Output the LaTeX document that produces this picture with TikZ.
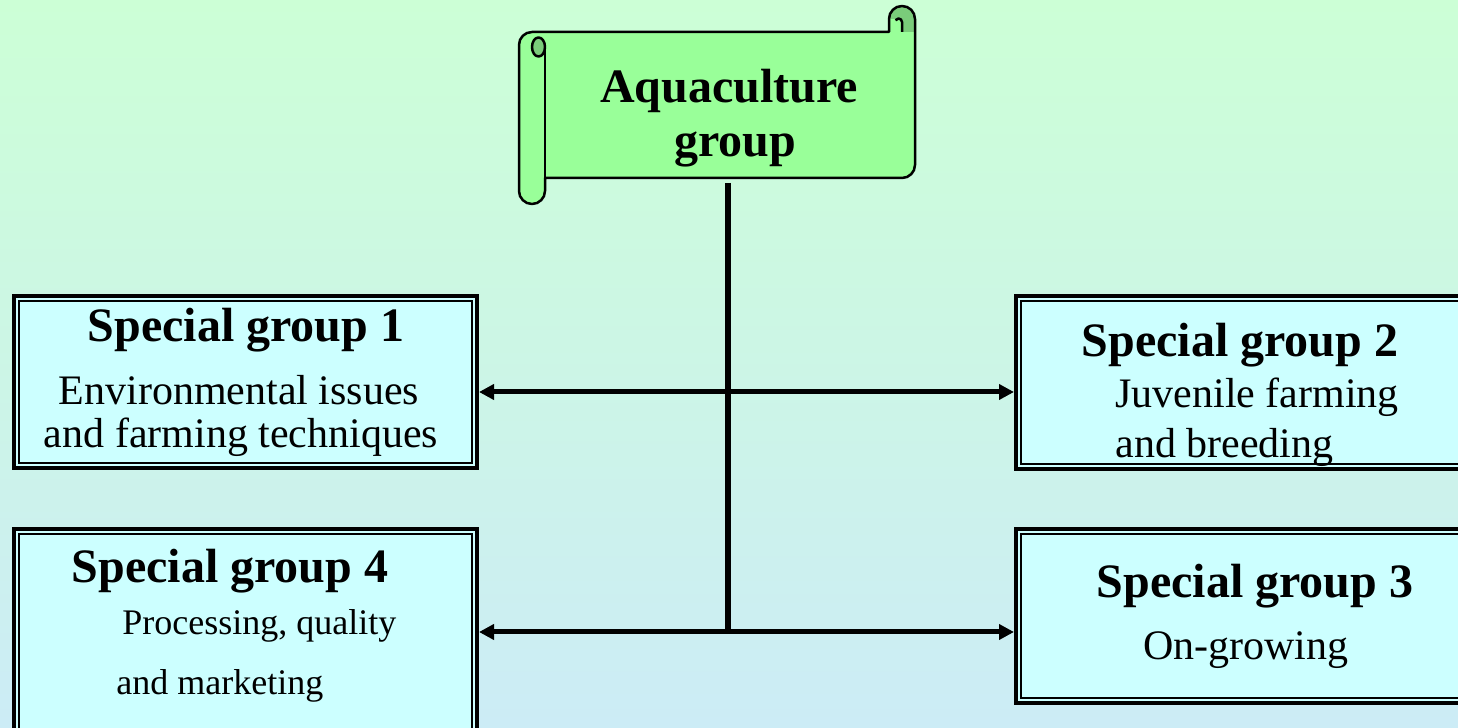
\documentclass[tikz,border=0pt]{standalone}
\usepackage{fontspec}
\setmainfont{Liberation Serif}
\usetikzlibrary{arrows.meta}
\definecolor{bgtop}{RGB}{204,255,214}
\definecolor{bgbot}{RGB}{204,236,246}
\definecolor{boxfill}{RGB}{204,255,255}
\definecolor{scrollfill}{RGB}{153,255,153}
\definecolor{scrolldark}{RGB}{122,204,122}
\def\myscrollpath{(519,683) arc[start angle=180, end angle=90, radius=13]
 -- (889,696) -- (889,709) arc[start angle=180, end angle=0, radius=13]
 -- (915,563) arc[start angle=0, end angle=-90, radius=13]
 -- (545,550) -- (545,537) arc[start angle=0, end angle=-180, radius=13]
 -- cycle}
\begin{document}
\begin{tikzpicture}[x=0.5pt,y=0.5pt,
  grpbox/.style={draw=black, line width=2pt, fill=boxfill, rectangle, inner sep=0pt, outer sep=1pt},
  innerline/.style={draw=black, line width=1pt},
  titletext/.style={font=\fontsize{24}{24}\selectfont\bfseries, inner sep=0pt, anchor=base},
  bodytext/.style={font=\fontsize{21}{21}\selectfont, inner sep=0pt, anchor=base},
  smalltext/.style={font=\fontsize{18}{18}\selectfont, inner sep=0pt, anchor=base west},
  link/.style={line width=2.5pt, {Triangle[length=7.5pt,width=7.5pt]}-{Triangle[length=7.5pt,width=7.5pt]}},
  stem/.style={line width=3pt},
  scrollline/.style={draw=black, line width=1.25pt, line join=round}
]
\useasboundingbox (0,0) rectangle (1458,728);
\shade[top color=bgtop, bottom color=bgbot] (0,0) rectangle (1458,728);
\clip (0,0) rectangle (1458,728);

% scroll
\fill[scrollfill] \myscrollpath;
\fill[scrolldark] (889,709) arc[start angle=180, end angle=0, radius=13] -- (915,696) -- (902,696) -- (902,709) -- cycle;
\draw[scrollline] \myscrollpath;
\draw[scrollline] (902,696) -- (902,706) arc[start angle=0, end angle=150, radius=3.5];
\filldraw[fill=scrolldark, scrollline] (538.5,681) ellipse[x radius=6.5, y radius=9.5];
\draw[scrollline] (545,681) -- (545,550);
\node[titletext] (aq1) at (729,625) {Aquaculture};
\node[titletext] (aq2) at (735,571) {group};

% boxes
\node[grpbox, minimum width=231.5pt, minimum height=86pt] (b1) at (245.5,346) {};
\draw[innerline] ([shift={(7,7)}]b1.south west) rectangle ([shift={(-7,-7)}]b1.north east);
\node[grpbox, minimum width=226pt, minimum height=86.5pt] (b2) at (1242,345.5) {};
\draw[innerline] ([shift={(7,7)}]b2.south west) rectangle ([shift={(-7,-7)}]b2.north east);
\node[grpbox, minimum width=226pt, minimum height=87pt] (b3) at (1242,112) {};
\draw[innerline] ([shift={(7,7)}]b3.south west) rectangle ([shift={(-7,-7)}]b3.north east);
\node[grpbox, minimum width=231.5pt, minimum height=107pt] (b4) at (245.5,92) {};
\draw[innerline] ([shift={(7,7)}]b4.south west) rectangle ([shift={(-7,-7)}]b4.north east);

% texts
\node[titletext] (t1a) at (246,386) {Special group 1};
\node[bodytext] (t1b) at (239,323) {Environmental issues};
\node[bodytext] (t1c) at (241,280) {and farming techniques};
\node[titletext] (t2a) at (1240,371) {Special group 2};
\node[bodytext, anchor=base west] (t2b) at (1115,320) {Juvenile farming};
\node[bodytext, anchor=base west] (t2c) at (1115,270) {and breeding};
\node[titletext] (t3a) at (1255,130) {Special group 3};
\node[bodytext] (t3b) at (1246,68) {On-growing};
\node[titletext] (t4a) at (230,145) {Special group 4};
\node[smalltext] (t4b) at (122,93) {Processing, quality};
\node[smalltext] (t4c) at (116,33) {and marketing};

% connectors
\coordinate (scrollbot) at (728,545);
\coordinate (j1) at (728,336);
\coordinate (j2) at (728,96);
\coordinate (stemend) at (728,93.5);
\draw[stem] (scrollbot) -- (stemend);
\draw[link] (b1.east |- j1) -- (b2.west |- j1);
\draw[link] (b4.east |- j2) -- (b3.west |- j2);
\end{tikzpicture}
\end{document}
